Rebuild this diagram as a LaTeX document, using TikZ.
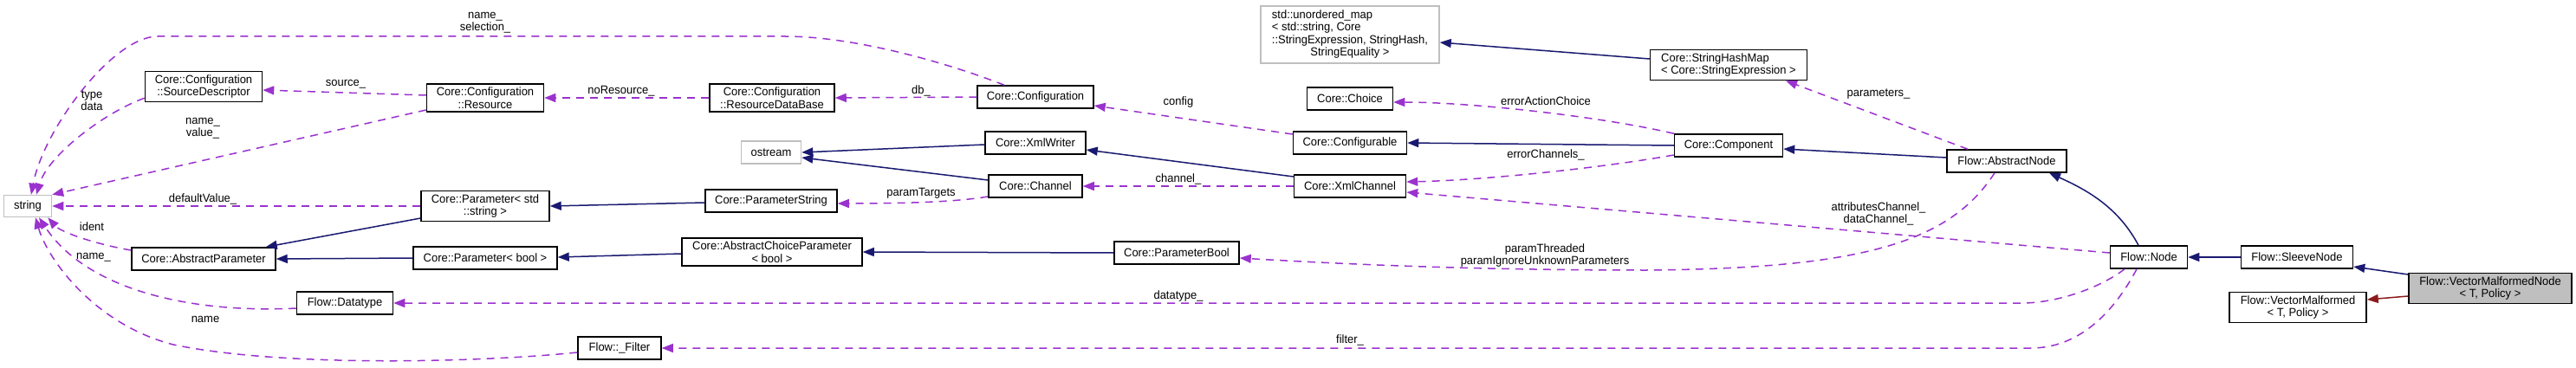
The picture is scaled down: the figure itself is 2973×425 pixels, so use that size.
\documentclass[tikz,border=0pt]{standalone}
\usepackage{fontspec}
\setmainfont{Liberation Sans}[FakeStretch=0.96]
\usetikzlibrary{arrows.meta}

\definecolor{inhblue}{HTML}{191970}
\definecolor{usepurple}{HTML}{9A32CD}
\definecolor{tplred}{HTML}{8B1A1A}
\definecolor{extgray}{HTML}{BFBFBF}

\begin{document}
\begin{tikzpicture}[x=1pt,y=-1pt,
  every node/.style={font=\fontsize{13.5}{14.5}\selectfont},
  cls/.style={draw=black,line width=1.5pt,fill=white,inner xsep=8pt,inner ysep=4pt,minimum height=26pt,align=center},
  ext/.style={cls,draw=extgray},
  cur/.style={cls,fill=extgray},
  lbl/.style={inner sep=0pt,align=center},
  inh/.style={draw=inhblue,line width=1.5pt,-{Triangle[length=13pt,width=10pt]}},
  tpl/.style={inh,draw=tplred},
  use/.style={draw=usepurple,line width=1.5pt,dash pattern=on 9pt off 7pt,-{Triangle[length=13pt,width=10pt]}}]
\useasboundingbox (0,0) rectangle (2973,425);

\node[ext,minimum width=55pt,minimum height=25pt] (str) at (32,238) {string};
\node[cls,minimum width=135pt] (sd) at (235,100) {Core::Configuration\\::SourceDescriptor};
\node[cls,minimum width=135pt] (res) at (560,113) {Core::Configuration\\::Resource};
\node[cls,minimum width=148pt] (pss) at (560,238) {Core::Parameter< std\\::string >};
\node[cls,minimum width=166pt] (ap) at (235,299) {Core::AbstractParameter};
\node[cls,minimum width=166pt] (pbl) at (560,298) {Core::Parameter< bool >};
\node[cls,minimum width=111pt] (dt) at (398,350) {Flow::Datatype};
\node[cls,minimum width=96pt] (flt) at (715,402) {Flow::\_Filter};
\node[cls,minimum width=144pt] (rdb) at (891,113) {Core::Configuration\\::ResourceDataBase};
\node[cls,minimum width=134pt] (conf) at (1195,112) {Core::Configuration};
\node[ext,minimum width=69pt] (ost) at (890,176) {ostream};
\node[cls,minimum width=116pt] (xw) at (1195,165) {Core::XmlWriter};
\node[cls,minimum width=108pt] (chn) at (1195,215) {Core::Channel};
\node[cls,minimum width=152pt] (ps) at (890,232) {Core::ParameterString};
\node[cls,minimum width=208pt] (acp) at (891,291) {Core::AbstractChoiceParameter\\< bool >};
\node[cls,minimum width=144pt] (pb) at (1358,292) {Core::ParameterBool};
\node[ext,minimum width=206pt] (um) at (1558,40) {\begin{tabular}{@{}l@{}}std::unordered\_map\\< std::string, Core\\::StringExpression, StringHash,\\\multicolumn{1}{@{}c@{}}{StringEquality >}\end{tabular}};
\node[cls,minimum width=181pt,align=left] (shm) at (1995,75) {Core::StringHashMap\\< Core::StringExpression >};
\node[cls,minimum width=99pt] (cho) at (1558,114) {Core::Choice};
\node[cls,minimum width=131pt] (cfg) at (1558,165) {Core::Configurable};
\node[cls,minimum width=129pt] (xc) at (1558,215) {Core::XmlChannel};
\node[cls,minimum width=125pt] (comp) at (1995,168) {Core::Component};
\node[cls,minimum width=138pt] (an) at (2316,186) {Flow::AbstractNode};
\node[cls,minimum width=89pt] (nd) at (2480,297) {Flow::Node};
\node[cls,minimum width=129pt] (sn) at (2651,297) {Flow::SleeveNode};
\node[cur,minimum width=188pt] (vmn) at (2874,333) {Flow::VectorMalformedNode\\< T, Policy >};
\node[cls,minimum width=158pt] (vm) at (2652,355) {Flow::VectorMalformed\\< T, Policy >};

\node[lbl] (lsel) at (560,26) {name\_\\selection\_};
\node[lbl] (ltyp) at (106,116) {type\\data};
\node[lbl] (lsrc) at (399,97) {source\_};
\node[lbl] (lnores) at (717,105) {noResource\_};
\node[lbl] (lval) at (234,148) {name\_\\value\_};
\node[lbl] (ldef) at (234,230) {defaultValue\_};
\node[lbl] (lid) at (106,262) {ident};
\node[lbl] (lnm) at (108,297) {name\_};
\node[lbl] (lname) at (237,369) {name};
\node[lbl] (ldb) at (1063,105) {db\_};
\node[lbl] (lcfg) at (1360,118) {config};
\node[lbl] (lchn) at (1360,207) {channel\_};
\node[lbl] (ltgt) at (1063,223) {paramTargets};
\node[lbl] (ldt) at (1360,342) {datatype\_};
\node[lbl] (lerra) at (1784,117) {errorActionChoice};
\node[lbl] (lerrc) at (1784,179) {errorChannels\_};
\node[lbl] (lpar) at (2168,109) {parameters\_};
\node[lbl] (lattr) at (2168,247) {attributesChannel\_\\dataChannel\_};
\node[lbl] (lthr) at (1783,295) {paramThreaded\\paramIgnoreUnknownParameters};
\node[lbl] (lflt) at (1558,393) {filter\_};

\draw[inh] ([yshift=-2pt]xw.west) -- (ost.east);
\draw[inh] ([yshift=7pt]chn.west) -- ([yshift=-6pt]ost.east);
\draw[inh] ([yshift=11pt]xc.west) -- ([yshift=-8pt]xw.east);
\draw[inh] ([yshift=-2pt]ps.west) -- (pss.east);
\draw[inh] ([yshift=-14pt]pss.west) -- ([xshift=-12pt]ap.north east);
\draw[inh] (pbl.west) -- (ap.east);
\draw[inh] ([yshift=-2pt]acp.west) -- ([yshift=1pt]pbl.east);
\draw[inh] (pb.west) -- (acp.east);
\draw[inh] (comp.west) -- (cfg.east);
\draw[inh] ([yshift=7pt]shm.west) -- ([yshift=-9pt]um.east);
\draw[inh] ([yshift=4pt]an.west) -- ([yshift=-4pt]comp.east);
\draw[inh] ([xshift=-12pt]nd.north) .. controls (2445,240) and (2410,220) .. ([xshift=49pt]an.south);
\draw[inh] (sn.west) -- (nd.east);
\draw[inh] ([yshift=16pt]vmn.west) -- ([yshift=-11pt]sn.east);
\draw[tpl] ([yshift=-9pt]vmn.west) -- ([yshift=9pt]vm.east);

\draw[use] ([xshift=-36pt]conf.north) .. controls (1100,75) and (990,42) .. (906,42) -- (182,42) .. controls (130,42) and (50,150) .. ([xshift=4pt]str.north);
\draw[use] ([yshift=5pt]sd.south west) .. controls (120,130) and (55,180) .. ([xshift=10pt]str.north);
\draw[use] ([yshift=3pt]res.west) -- ([yshift=-4pt]sd.east);
\draw[use] ([yshift=-14pt]res.west) -- (str.north east);
\draw[use] (rdb.west) -- (res.east);
\draw[use] (conf.west) -- (rdb.east);
\draw[use] ([yshift=10pt]cfg.west) -- ([yshift=-10pt]conf.east);
\draw[use] (xc.west) -- (chn.east);
\draw[use] ([yshift=-12pt]chn.west) .. controls (1100,234) and (1030,235) .. ([yshift=-3pt]ps.east);
\draw[use] (pss.west) -- (str.east);
\draw[use] ([yshift=10pt]ap.west) .. controls (110,282) and (70,268) .. ([xshift=-5pt]str.south east);
\draw[use] ([yshift=-6pt]dt.west) .. controls (220,362) and (100,335) .. ([xshift=13pt]str.south);
\draw[use] ([yshift=-5pt]flt.west) .. controls (560,418) and (330,425) .. (200,398) .. controls (110,375) and (55,300) .. ([xshift=9pt]str.south);
\draw[use] (comp.north west) .. controls (1850,135) and (1700,118) .. ([yshift=-4pt]cho.east);
\draw[use] ([yshift=-11pt]comp.west) .. controls (1860,192) and (1720,208) .. ([yshift=5pt]xc.east);
\draw[use] ([xshift=-45pt]an.north) -- ([xshift=66pt]shm.south);
\draw[use] ([yshift=5pt]nd.west) -- ([yshift=-7pt]xc.east);
\draw[use] ([xshift=-14pt]an.south) .. controls (2250,280) and (2150,310) .. (1900,312) .. controls (1700,312) and (1550,305) .. ([yshift=-6pt]pb.east);
\draw[use] ([xshift=-28pt]nd.south) .. controls (2420,335) and (2370,350) .. (2334,350) -- (dt.east);
\draw[use] ([xshift=-14pt]nd.south) .. controls (2440,360) and (2400,402) .. (2344,402) -- (flt.east);
\end{tikzpicture}
\end{document}
